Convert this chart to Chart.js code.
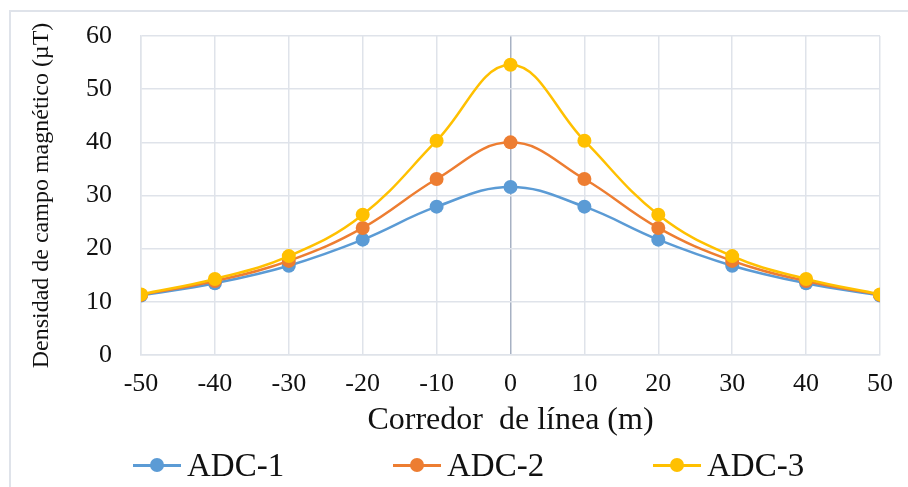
<!DOCTYPE html>
<html>
<head>
<meta charset="utf-8">
<script src="https://cdn.jsdelivr.net/npm/chart.js@4.4.1/dist/chart.umd.min.js"></script>
<style>
  html, body { margin: 0; padding: 0; background: #fff; overflow: hidden; }
  #wrap { position: relative; width: 908px; height: 487px; }
  #frame { position: absolute; left: 9px; top: 10px; width: 920px; height: 500px;
           border-left: 2px solid #dfe3ea; border-top: 2px solid #dfe3ea; }
  #c { position: absolute; left: 0; top: 0; }
  #legend { position: absolute; left: 0; top: 447px; width: 908px; height: 36px;
            font-family: 'Liberation Serif', 'Times New Roman', serif; font-size: 33px; color: #111; }
  .item { position: absolute; top: 0; height: 36px; line-height: 36px; white-space: nowrap; }
  .mark { position: absolute; top: 17px; left: 0; width: 48px; height: 3px; }
  .dot { position: absolute; left: 17px; top: -6px; width: 14px; height: 14px; border-radius: 50%; }
  .txt { position: absolute; left: 54px; top: 0; }
</style>
</head>
<body>
<div id="wrap">
  <div id="frame"></div>
  <canvas id="c" width="908" height="487"></canvas>
  <div id="legend"></div>
</div>
<script>
// distance from line axis, m
var xValues = [-50, -40, -30, -20, -10, 0, 10, 20, 30, 40, 50];
var seriesNames = ['ADC-1', 'ADC-2', 'ADC-3'];
var adc1 = [11.2, 13.5, 16.8, 21.7, 27.9, 31.6, 27.9, 21.7, 16.8, 13.5, 11.2];
var adc2 = [11.3, 13.9, 17.7, 23.9, 33.1, 40.0, 33.1, 23.9, 17.7, 13.9, 11.3];
var adc3 = [11.4, 14.3, 18.6, 26.4, 40.3, 54.6, 40.3, 26.4, 18.6, 14.3, 11.4];
var colors = ['#5b9bd5', '#ed7d31', '#ffc000'];

var serif = "'Liberation Serif', 'Times New Roman', serif";
var gridColor = '#dfe3ea';

function pts(vals) {
    return vals.map(function (v, i) { return { x: xValues[i], y: v }; });
}

var allSeries = [adc1, adc2, adc3];
var datasets = [];
for (let i = 0; i < allSeries.length; i++) {
    datasets.push({
        label: seriesNames[i],
        data: pts(allSeries[i]),
        borderColor: colors[i],
        backgroundColor: colors[i],
        borderWidth: 2.5,
        pointRadius: 7,
        pointHoverRadius: 7,
        pointBorderWidth: 0,
        tension: 0.4,
        order: allSeries.length - i   // ADC-3 drawn on top
    });
}

var ctx = document.getElementById('c').getContext('2d');
var chart = new Chart(ctx, {
    type: 'line',
    data: { datasets: datasets },
    options: {
        responsive: false,
        animation: false,
        layout: { padding: { left: 0, top: 36, right: 28, bottom: 46 } },
        plugins: {
            legend: { display: false },
            tooltip: { enabled: false }
        },
        scales: {
            x: {
                type: 'linear',
                min: -50,
                max: 50,
                afterFit: function (s) { s.height = 86; },
                ticks: {
                    stepSize: 10,
                    padding: 0,
                    color: '#111',
                    font: { family: serif, size: 26 }
                },
                // invisible tick marks used as the label gap
                grid: {
                    drawTicks: true,
                    tickLength: 14,
                    tickColor: 'rgba(0,0,0,0)',
                    color: function (c) { return (c.tick && c.tick.value === 0) ? '#a7b1c3' : gridColor; },
                    lineWidth: 1.5
                },
                border: { color: gridColor, width: 1.5 },
                title: {
                    display: true,
                    text: 'Corredor  de línea (m)',
                    color: '#111',
                    font: { family: serif, size: 32 },
                    padding: { top: 0, bottom: 1 }
                }
            },
            y: {
                min: 0,
                max: 60,
                afterFit: function (s) { s.width = 141; },
                ticks: {
                    stepSize: 10,
                    padding: 0,
                    color: '#111',
                    font: { family: serif, size: 26 }
                },
                grid: {
                    drawTicks: true,
                    tickLength: 29,
                    tickColor: 'rgba(0,0,0,0)',
                    color: gridColor,
                    lineWidth: 1.5
                },
                border: { color: gridColor, width: 1.5 },
                title: {
                    display: true,
                    text: 'Densidad de campo magnético (µT)',
                    color: '#111',
                    font: { family: serif, size: 24 },
                    padding: { top: 27, bottom: 0 }
                }
            }
        }
    }
});

// legend, built from the same series names / colours
var legendLeft = [133, 393, 653];
var leg = document.getElementById('legend');
for (let i = 0; i < seriesNames.length; i++) {
    var item = document.createElement('div');
    item.className = 'item';
    item.style.left = legendLeft[i] + 'px';
    item.innerHTML = '<div class="mark" style="background:' + colors[i] + '">' +
        '<div class="dot" style="background:' + colors[i] + '"></div></div>' +
        '<span class="txt">' + seriesNames[i] + '</span>';
    leg.appendChild(item);
}
</script>
</body>
</html>
